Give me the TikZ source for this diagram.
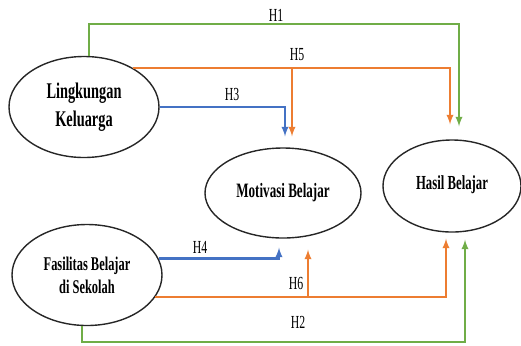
\documentclass[tikz,border=0pt]{standalone}
\usepackage{fontspec}
\setmainfont{Liberation Serif}[FakeStretch=0.64]
\usepackage{tikz}
\usetikzlibrary{shapes.geometric}
\usepackage{xcolor}
\definecolor{hgreen}{RGB}{112,173,71}
\definecolor{horange}{RGB}{237,125,49}
\definecolor{hblue}{RGB}{68,114,196}

\begin{document}
\begin{tikzpicture}[x=1bp,y=-1bp,
  var/.style={draw=black!85,line width=1.4bp,ellipse,inner sep=0pt,align=center,font=\bfseries\fontsize{19.5}{23}\selectfont},
  link/.style={->,>=latex,line width=2.2bp,draw=#1},
  hlabel/.style={font=\fontsize{18.5}{20}\selectfont,inner sep=0pt}]
\useasboundingbox (0,0) rectangle (521,345);
\node[var,minimum width=150bp,minimum height=101bp,font=\bfseries\fontsize{22.5}{28}\selectfont] (lk) at (84,107) {Lingkungan\\Keluarga};
\node[var,minimum width=150bp,minimum height=101bp] (fs) at (87,275) {Fasilitas Belajar\\di Sekolah};
\node[var,minimum width=156bp,minimum height=90bp,font=\bfseries\fontsize{20.5}{23}\selectfont] (mb) at (283,193) {\raisebox{3bp}{Motivasi Belajar}};
\node[var,minimum width=138bp,minimum height=92bp,font=\bfseries\fontsize{20}{23}\selectfont] (hb) at (452,186) {\raisebox{6bp}{Hasil Belajar}};
\draw[link=hgreen,shorten >=13bp] ([xshift=5bp]lk.north) -- ++(0,-32) -| ([xshift=7bp]hb.north);
\draw[link=horange,shorten >=15bp] (lk.39) -| ([xshift=-2bp]hb.north);
\draw[link=horange,shorten >=11bp] ([xshift=9bp]mb.north |- lk.39) -- ([xshift=9bp]mb.north);
\draw[link=hblue,shorten >=11bp] (lk.east) -| ([xshift=2bp]mb.north);
\draw[link=hblue,shorten >=9bp] (fs.13) -| ([xshift=-4bp]mb.south);
\draw[link=horange,shorten >=6bp] (fs.-18) -| ([xshift=-6bp]hb.south);
\draw[link=horange,shorten >=11bp] ([xshift=25bp]mb.south |- fs.-18) -- ([xshift=25bp]mb.south);
\draw[link=hgreen,shorten >=7bp] ([xshift=-5bp]fs.south) -- ++(0,16) -| ([xshift=13bp]hb.south);
\node[hlabel] (h1) at (276,15) {H1};
\node[hlabel] (h5) at (297,55) {H5};
\node[hlabel] (h3) at (232,94) {H3};
\node[hlabel] (h4) at (200,247) {H4};
\node[hlabel] (h6) at (296,283) {H6};
\node[hlabel] (h2) at (298,322) {H2};
\end{tikzpicture}
\end{document}
